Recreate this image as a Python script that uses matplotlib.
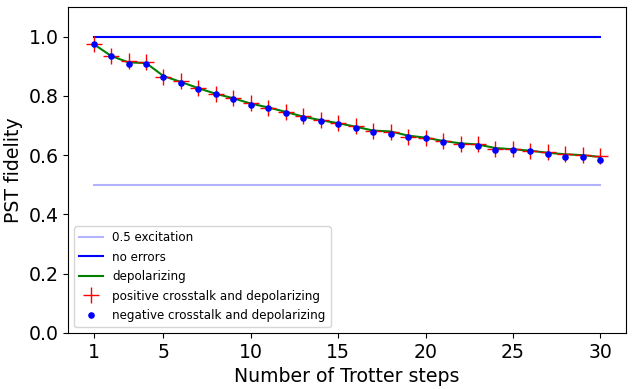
import numpy as np
import matplotlib
matplotlib.use("Agg")
import matplotlib.pyplot as plt

# Trotter steps 1..30
steps = list(range(1, 31))

# fidelity
depolarizing = [0.975, 0.935, 0.913, 0.911, 0.867, 0.847, 0.826, 0.807, 0.792, 0.774,
                0.761, 0.746, 0.730, 0.718, 0.708, 0.696, 0.683, 0.680, 0.666, 0.659,
                0.648, 0.640, 0.636, 0.624, 0.620, 0.615, 0.608, 0.603, 0.600, 0.594]
positive = [0.976, 0.933, 0.918, 0.915, 0.865, 0.851, 0.825, 0.808, 0.794, 0.777,
            0.758, 0.747, 0.733, 0.720, 0.708, 0.697, 0.680, 0.677, 0.663, 0.659,
            0.648, 0.638, 0.637, 0.622, 0.620, 0.615, 0.610, 0.603, 0.600, 0.598]
negative = [0.976, 0.933, 0.909, 0.907, 0.864, 0.845, 0.824, 0.805, 0.790, 0.771,
            0.760, 0.743, 0.727, 0.716, 0.706, 0.693, 0.679, 0.670, 0.662, 0.658,
            0.645, 0.635, 0.632, 0.619, 0.619, 0.615, 0.605, 0.595, 0.593, 0.585]

xticks = [1, 5, 10, 15, 20, 25, 30]

fig, ax = plt.subplots(figsize=(6.32, 3.89), dpi=100)

ax.plot(steps, [0.5] * len(steps), color='blue', alpha=0.3, label='0.5 excitation')
ax.plot(steps, [1.0] * len(steps), color='blue', label='no errors')
ax.plot(steps, depolarizing, color='green', label='depolarizing')
ax.plot(steps, positive, 'r+', markersize=11, label='positive crosstalk and depolarizing')
ax.plot(steps, negative, 'b.', markersize=7.5, label='negative crosstalk and depolarizing')

ax.set_ylim(0, 1.1)
ax.set_xticks(xticks)
ax.tick_params(labelsize=13.6)
ax.set_xlabel('Number of Trotter steps', fontsize=13.6)
ax.set_ylabel('PST fidelity', fontsize=13.6)
ax.legend(loc='lower left', fontsize=8.6, labelspacing=0.55)

plt.subplots_adjust(left=0.108, right=0.99, top=0.982, bottom=0.144)
plt.savefig('out.png')
